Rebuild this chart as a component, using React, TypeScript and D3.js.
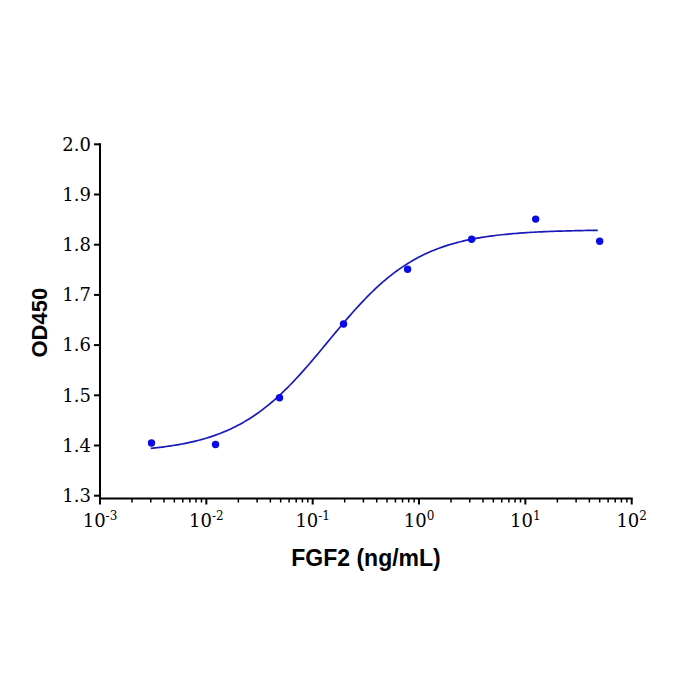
import React, { useEffect, useRef } from 'react';
import * as d3 from 'd3';

// FGF2 concentrations (ng/mL), 4-fold dilution series
const concentrations = [0.00305, 0.0122, 0.0488, 0.195, 0.781, 3.125, 12.5, 50];
const od450 = [1.405, 1.402, 1.495, 1.642, 1.751, 1.811, 1.851, 1.807];

// 4PL fit: bottom, top, EC50, hill
const fitParams = [1.385, 1.83, 0.14, 1.0];
const fitRange = [0.003, 48];

const yTicks = [1.3, 1.4, 1.5, 1.6, 1.7, 1.8, 1.9, 2.0];
const xDecades = [-3, -2, -1, 0, 1, 2];

const width = 700;
const height = 700;
const serif = "'DejaVu Serif', serif";
const sans = "'Liberation Sans', Arial, sans-serif";

export default function App() {
  const ref = useRef<SVGSVGElement>(null);

  useEffect(() => {
    draw();
  }, []);

  function draw() {
    const svg = d3.select(ref.current);
    svg.selectAll('*').remove();

    const x = d3.scaleLog().domain([1e-3, 1e2]).range([100, 631.7]);
    const y = d3.scaleLinear().domain([1.3, 2.0]).range([495.7, 144.3]);
    const axisY = 498.5;

    const g = svg.append('g');

    // y axis
    g.append('line')
      .attr('x1', 100).attr('x2', 100)
      .attr('y1', y(2.0) - 1).attr('y2', axisY + 1)
      .attr('stroke', '#000').attr('stroke-width', 2);

    yTicks.forEach((t) => {
      g.append('line')
        .attr('x1', 94).attr('x2', 100)
        .attr('y1', y(t)).attr('y2', y(t))
        .attr('stroke', '#000').attr('stroke-width', 2);
      g.append('text')
        .attr('x', 91).attr('y', y(t))
        .attr('dy', '0.35em')
        .attr('text-anchor', 'end')
        .style('font-family', serif)
        .style('font-size', '18px')
        .text(t.toFixed(1));
    });

    // x axis
    g.append('line')
      .attr('x1', 99).attr('x2', x(1e2) + 1)
      .attr('y1', axisY).attr('y2', axisY)
      .attr('stroke', '#000').attr('stroke-width', 2);

    xDecades.forEach((p, i) => {
      const v = Math.pow(10, p);
      g.append('line')
        .attr('x1', x(v)).attr('x2', x(v))
        .attr('y1', axisY).attr('y2', axisY + 6)
        .attr('stroke', '#000').attr('stroke-width', 2);
      const label = g.append('text')
        .attr('x', x(v)).attr('y', axisY + 28)
        .attr('text-anchor', 'middle')
        .style('font-family', serif)
        .style('font-size', '18px');
      label.append('tspan').text('10');
      label.append('tspan')
        .attr('dy', -7)
        .style('font-size', '12px')
        .text(String(p));
      if (i < xDecades.length - 1) {
        for (let m = 2; m <= 9; m++) {
          const mv = m * v;
          g.append('line')
            .attr('x1', x(mv)).attr('x2', x(mv))
            .attr('y1', axisY).attr('y2', axisY + 4)
            .attr('stroke', '#000').attr('stroke-width', 1.5);
        }
      }
    });

    // fitted curve
    const [bottom, top, ec50, hill] = fitParams;
    const lo = Math.log10(fitRange[0]);
    const hi = Math.log10(fitRange[1]);
    const curveX = d3.range(0, 201).map((i) => Math.pow(10, lo + ((hi - lo) * i) / 200));
    const line = d3.line<number>()
      .x((d) => x(d))
      .y((d) => y(bottom + (top - bottom) / (1 + Math.pow(ec50 / d, hill))));

    g.append('path')
      .datum(curveX)
      .attr('d', line)
      .attr('fill', 'none')
      .attr('stroke', '#1a1ab8')
      .attr('stroke-width', 1.7);

    // points
    g.selectAll('circle.pt')
      .data(concentrations)
      .enter()
      .append('circle')
      .attr('class', 'pt')
      .attr('cx', (d) => x(d))
      .attr('cy', (d, i) => y(od450[i]))
      .attr('r', 3.7)
      .attr('fill', '#0a0ae8');

    // axis titles
    g.append('text')
      .attr('x', 366).attr('y', 566)
      .attr('text-anchor', 'middle')
      .style('font-family', sans)
      .style('font-weight', 'bold')
      .style('font-size', '23px')
      .text('FGF2 (ng/mL)');

    g.append('text')
      .attr('transform', 'translate(46.5, 322.7) rotate(-90)')
      .attr('text-anchor', 'middle')
      .style('font-family', sans)
      .style('font-weight', 'bold')
      .style('font-size', '22px')
      .text('OD450');
  }

  return (
    <svg
      ref={ref}
      width={width}
      height={height}
      style={{ position: 'absolute', left: 0, top: 0, background: '#fff' }}
    />
  );
}
